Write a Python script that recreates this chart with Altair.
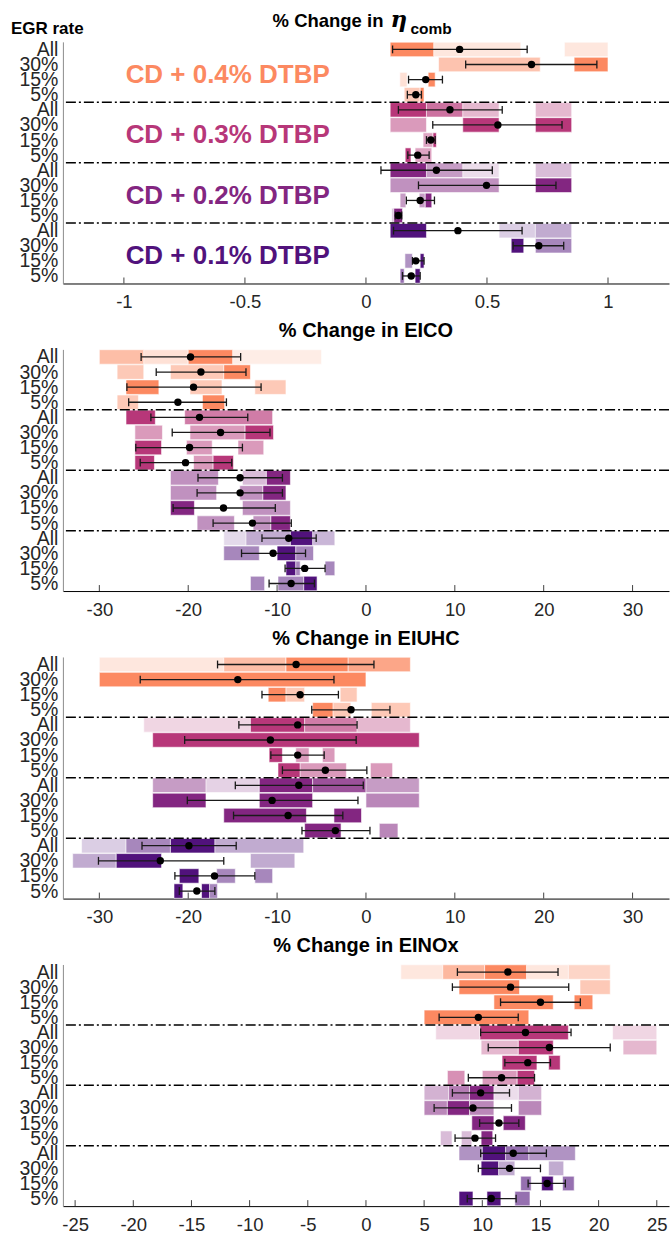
import altair as alt
import pandas as pd

EGR_RATES = ["All", "30%", "15%", "5%"]
BLENDS = ["CD + 0.4% DTBP", "CD + 0.3% DTBP", "CD + 0.2% DTBP", "CD + 0.1% DTBP"]
BLEND_COLORS = ["#FC8961", "#B73779", "#832681", "#51127C"]

# ---------- panel 1: % change in eta_comb ----------
# (row, from, to, relative density)  row = blend*4 + egr index
ETA_SEGS = [
    (0, 0.10, 0.28, 1.0), (0, 0.28, 0.64, 0.2), (0, 0.82, 1.0, 0.2),
    (1, 0.30, 0.72, 0.5), (1, 0.86, 1.0, 1.0),
    (2, 0.14, 0.17, 0.25), (2, 0.257, 0.286, 1.0),
    (3, 0.158, 0.224, 0.45), (3, 0.224, 0.24, 1.0),
    (4, 0.10, 0.25, 1.0), (4, 0.25, 0.40, 0.7), (4, 0.40, 0.55, 0.35), (4, 0.70, 0.85, 0.35),
    (5, 0.10, 0.25, 0.5), (5, 0.40, 0.55, 1.0), (5, 0.70, 0.85, 1.0),
    (6, 0.236, 0.277, 0.45), (6, 0.277, 0.291, 1.0),
    (7, 0.162, 0.186, 1.0), (7, 0.203, 0.272, 0.45),
    (8, 0.10, 0.25, 1.0), (8, 0.25, 0.40, 0.45), (8, 0.40, 0.55, 0.15), (8, 0.70, 0.85, 0.3),
    (9, 0.10, 0.55, 0.5), (9, 0.70, 0.85, 1.0),
    (10, 0.141, 0.165, 0.45), (10, 0.220, 0.245, 0.45), (10, 0.245, 0.272, 1.0),
    (11, 0.107, 0.115, 0.3), (11, 0.115, 0.151, 1.0),
    (12, 0.10, 0.25, 1.0), (12, 0.55, 0.70, 0.2), (12, 0.70, 0.85, 0.35),
    (13, 0.60, 0.652, 1.0), (13, 0.70, 0.85, 0.5),
    (14, 0.161, 0.192, 0.45), (14, 0.224, 0.240, 1.0),
    (15, 0.141, 0.158, 0.6), (15, 0.203, 0.224, 1.0),
]
ETA_MEAN = [0.387, 0.684, 0.247, 0.206, 0.347, 0.545, 0.268, 0.214,
            0.291, 0.498, 0.224, 0.134, 0.380, 0.714, 0.206, 0.187]
ETA_LO = [0.110, 0.412, 0.176, 0.171, 0.134, 0.276, 0.250, 0.173,
          0.062, 0.217, 0.167, 0.121, 0.114, 0.608, 0.192, 0.151]
ETA_HI = [0.666, 0.954, 0.316, 0.229, 0.563, 0.810, 0.286, 0.261,
          0.522, 0.785, 0.283, 0.148, 0.645, 0.817, 0.240, 0.224]
ETA_TICKS = [-1, -0.5, 0, 0.5, 1]

# ---------- panel 2: % change in EICO ----------
CO_SEGS = [
    (0, -30.0, -25.0, 0.55), (0, -25.0, -20.0, 0.25), (0, -20.0, -15.0, 1.0), (0, -15.0, -5.0, 0.15),
    (1, -28.0, -25.0, 0.45), (1, -22.0, -16.0, 0.45), (1, -16.0, -13.0, 1.0),
    (2, -27.0, -23.3, 1.0), (2, -19.8, -16.2, 0.45), (2, -12.5, -9.0, 0.45),
    (3, -28.0, -25.6, 0.45), (3, -18.4, -15.9, 1.0),
    (4, -27.0, -23.7, 1.0), (4, -20.4, -10.5, 0.65),
    (5, -26.0, -22.9, 0.5), (5, -19.8, -13.6, 0.5), (5, -13.6, -10.4, 1.0),
    (6, -26.0, -23.0, 1.0), (6, -20.2, -17.3, 0.5), (6, -14.4, -11.5, 0.5),
    (7, -26.0, -23.8, 1.0), (7, -19.4, -17.2, 0.5), (7, -17.2, -14.9, 1.0),
    (8, -22.0, -16.6, 0.5), (8, -13.9, -11.2, 0.3), (8, -11.2, -8.5, 1.0),
    (9, -22.0, -16.8, 0.5), (9, -14.2, -11.6, 0.5), (9, -11.6, -9.0, 1.0),
    (10, -22.0, -19.3, 1.0), (10, -13.9, -8.5, 0.5),
    (11, -19.0, -14.8, 0.5), (11, -12.7, -10.7, 0.5), (11, -10.7, -8.5, 1.0),
    (12, -16.0, -13.5, 0.15), (12, -13.5, -8.5, 0.35), (12, -8.5, -6.0, 1.0), (12, -6.0, -3.5, 0.3),
    (13, -16.0, -12.0, 0.5), (13, -10.0, -7.9, 1.0), (13, -7.9, -5.9, 0.5),
    (14, -9.0, -7.9, 1.0), (14, -7.9, -7.4, 0.5), (14, -4.6, -3.5, 0.5),
    (15, -13.0, -11.4, 0.5), (15, -9.9, -7.0, 0.5), (15, -7.0, -5.5, 1.0),
]
CO_MEAN = [-19.74, -18.57, -19.4, -21.16, -18.73, -16.36, -19.85, -20.3,
           -14.16, -14.16, -16.03, -12.77, -8.69, -10.45, -6.89, -8.42]
CO_LO = [-25.3, -23.6, -26.9, -26.7, -24.2, -21.8, -25.9, -25.4,
         -18.9, -19.0, -21.7, -17.2, -11.7, -14.0, -9.1, -10.9]
CO_HI = [-14.1, -13.5, -11.8, -15.7, -13.3, -10.8, -13.9, -15.1,
         -9.4, -9.4, -10.2, -8.4, -5.6, -6.8, -4.6, -5.8]
CO_TICKS = [-30, -20, -10, 0, 10, 20, 30]

# ---------- panel 3: % change in EIUHC ----------
UHC_SEGS = [
    (0, -30.0, -16.0, 0.2), (0, -16.0, -9.0, 0.55), (0, -9.0, -2.0, 1.0), (0, -2.0, 5.0, 0.75),
    (1, -30.0, 0.0, 1.0),
    (2, -11.0, -9.0, 1.0), (2, -9.0, -6.9, 0.45), (2, -2.9, -1.0, 0.45),
    (3, -6.0, -3.7, 1.0), (3, -3.7, -1.7, 0.45), (3, 0.6, 5.0, 0.45),
    (4, -25.0, -13.0, 0.2), (4, -13.0, -6.9, 1.0), (4, -6.9, -1.0, 0.65), (4, -1.0, 5.0, 0.35),
    (5, -24.0, 6.0, 1.0),
    (6, -10.9, -9.4, 1.0), (6, -7.9, -6.4, 0.5), (6, -4.9, -3.5, 0.5),
    (7, -9.9, -7.4, 1.0), (7, -7.4, -2.2, 0.5), (7, 0.5, 3.0, 0.5),
    (8, -24.0, -18.0, 0.45), (8, -18.0, -12.0, 0.2), (8, -12.0, -6.0, 1.0), (8, -6.0, 0.0, 0.8), (8, 0.0, 6.0, 0.45),
    (9, -24.0, -18.0, 1.0), (9, -12.0, -6.0, 1.0), (9, 0.0, 6.0, 0.55),
    (10, -16.0, -6.7, 1.0), (10, -3.6, -0.5, 1.0),
    (11, -6.9, -2.8, 1.0), (11, 1.5, 3.6, 0.55),
    (12, -32.0, -27.0, 0.2), (12, -27.0, -22.0, 0.5), (12, -22.0, -17.0, 1.0), (12, -17.0, -7.0, 0.35),
    (13, -33.0, -28.1, 0.35), (13, -28.1, -23.0, 1.0), (13, -13.0, -8.0, 0.35),
    (14, -21.0, -18.8, 1.0), (14, -16.8, -14.7, 0.5), (14, -12.5, -10.5, 0.5),
    (15, -21.6, -20.6, 1.0), (15, -18.5, -17.6, 1.0), (15, -17.6, -16.7, 0.5),
]
UHC_MEAN = [-7.86, -14.42, -7.41, -1.68, -7.68, -10.75, -7.68, -4.57,
            -7.56, -10.56, -8.76, -3.44, -19.92, -23.14, -17.04, -19.03]
UHC_LO = [-16.7, -25.4, -11.7, -6.1, -14.3, -20.4, -10.7, -9.4,
          -14.7, -20.1, -14.9, -7.2, -25.2, -30.1, -21.5, -21.0]
UHC_HI = [0.9, -3.6, -3.1, 2.7, -1.0, -1.1, -4.7, 0.1,
          -0.3, -0.9, -2.6, 0.45, -14.6, -16.0, -12.5, -17.0]
UHC_TICKS = [-30, -20, -10, 0, 10, 20, 30]

# ---------- panel 4: % change in EINOx ----------
NOX_SEGS = [
    (0, 3.0, 6.6, 0.2), (0, 6.6, 10.2, 0.6), (0, 10.2, 13.8, 1.0), (0, 13.8, 17.4, 0.2), (0, 17.4, 21.0, 0.35),
    (1, 8.0, 13.2, 1.0), (1, 18.4, 21.0, 0.45),
    (2, 11.0, 16.1, 1.0), (2, 17.9, 19.5, 1.0),
    (3, 5.0, 14.0, 1.0),
    (4, 6.0, 9.8, 0.2), (4, 9.8, 17.4, 1.0), (4, 21.2, 25.0, 0.2),
    (5, 9.9, 13.1, 0.35), (5, 13.1, 16.1, 1.0), (5, 22.1, 25.0, 0.35),
    (6, 11.7, 14.7, 1.0), (6, 15.7, 16.7, 1.0),
    (7, 7.0, 8.5, 0.55), (7, 10.0, 13.0, 0.5), (7, 13.0, 14.5, 1.0),
    (8, 5.0, 7.1, 0.35), (8, 7.1, 8.9, 0.6), (8, 8.9, 11.0, 1.0), (8, 11.0, 13.1, 0.15), (8, 13.1, 15.1, 0.35),
    (9, 5.0, 7.0, 0.55), (9, 7.0, 8.9, 1.0), (9, 8.9, 11.0, 0.55), (9, 13.1, 15.1, 0.55),
    (10, 9.1, 11.0, 1.0), (10, 11.8, 13.7, 1.0),
    (11, 6.4, 7.4, 0.3), (11, 8.2, 9.1, 0.3), (11, 9.9, 10.9, 1.0),
    (12, 8.0, 10.0, 0.45), (12, 10.0, 12.0, 1.0), (12, 12.0, 14.0, 0.6), (12, 14.0, 18.0, 0.45),
    (13, 9.9, 11.4, 1.0), (13, 11.4, 12.8, 0.35), (13, 15.7, 17.0, 0.35),
    (14, 13.3, 14.2, 0.6), (14, 15.1, 16.1, 1.0), (14, 16.9, 17.9, 0.6),
    (15, 8.0, 9.2, 1.0), (15, 10.4, 11.6, 1.0), (15, 12.8, 14.1, 0.6),
]
NOX_MEAN = [12.2, 12.43, 15.0, 9.66, 13.71, 15.77, 13.91, 11.66,
            9.86, 9.2, 11.43, 9.37, 12.66, 12.34, 15.57, 10.77]
NOX_LO = [7.86, 7.43, 11.57, 6.29, 9.86, 10.51, 11.94, 8.8,
          7.43, 5.86, 9.77, 7.66, 9.86, 9.66, 13.94, 8.71]
NOX_HI = [16.51, 17.43, 18.43, 13.09, 17.63, 21.0, 15.86, 14.49,
          12.34, 12.51, 13.14, 11.14, 15.51, 15.0, 17.14, 12.91]
NOX_TICKS = [-25, -20, -15, -10, -5, 0, 5, 10, 15, 20, 25]

W, H = 607, 242
FONT = "Liberation Sans"
TXT = "#262626"

color_scale = alt.Scale(domain=BLENDS, range=BLEND_COLORS)
y_scale = alt.Scale(domain=[-0.5, 15.5], reverse=True, nice=False, zero=False)
y_axis = alt.Axis(values=list(range(16)), labelExpr="['All','30%','15%','5%'][datum.value % 4]",
                  title=None, ticks=False, grid=False, domainColor="#8c8c8c", domainWidth=1,
                  labelFontSize=19.5, labelFont=FONT, labelColor=TXT, labelPadding=5,
                  labelOverlap=False, labelFlush=False, labelBound=False, labelBaseline="middle")


def panel(segs, mean, lo, hi, ticks, half, title=None, first=False):
    x_scale = alt.Scale(domain=[-half, half], nice=False, zero=False)
    x_axis = alt.Axis(values=ticks, labelExpr="'' + datum.value", title=None, ticks=False, grid=False,
                      domainColor="black", domainWidth=1, labelFontSize=18.5, labelFont=FONT,
                      labelColor=TXT, labelPadding=9, labelOverlap=False, labelFlush=False)
    sdf = pd.DataFrame(segs, columns=["row", "x0", "x1", "density"])
    sdf["blend"] = [BLENDS[r // 4] for r in sdf["row"]]
    pdf = pd.DataFrame({"row": list(range(16)), "mean": mean, "lo": lo, "hi": hi})
    tdf = pd.DataFrame({"t": ticks})
    gdf = pd.DataFrame({"g": [1, 2, 3]})

    bars = alt.Chart(sdf).mark_rect(stroke="white", strokeWidth=0.6).transform_calculate(
        y0="datum.row - 0.48", y1="datum.row + 0.48"
    ).encode(
        x=alt.X("x0:Q", scale=x_scale, axis=x_axis), x2="x1:Q",
        y=alt.Y("y0:Q", scale=y_scale, axis=y_axis), y2="y1:Q",
        color=alt.Color("blend:N", scale=color_scale, legend=None),
        opacity=alt.Opacity("density:Q", scale=alt.Scale(domain=[0, 1], range=[0, 1]), legend=None),
    )
    seps = alt.Chart(gdf).mark_rule(color="black", strokeWidth=1.5, strokeDash=[10, 3, 2, 3]).transform_calculate(
        sy="datum.g * 4 - 0.5"
    ).encode(y=alt.Y("sy:Q", scale=y_scale, axis=y_axis))
    base = alt.Chart(pdf)
    err = base.mark_rule(color="#1a1a1a", strokeWidth=1.3).encode(
        x=alt.X("lo:Q", scale=x_scale, axis=x_axis), x2="hi:Q",
        y=alt.Y("row:Q", scale=y_scale, axis=y_axis))
    capdata = base.transform_calculate(ca="datum.row - 0.26", cb="datum.row + 0.26")
    cap_lo = capdata.mark_rule(color="#1a1a1a", strokeWidth=1.3).encode(
        x=alt.X("lo:Q", scale=x_scale, axis=x_axis),
        y=alt.Y("ca:Q", scale=y_scale, axis=y_axis), y2="cb:Q")
    cap_hi = capdata.mark_rule(color="#1a1a1a", strokeWidth=1.3).encode(
        x=alt.X("hi:Q", scale=x_scale, axis=x_axis),
        y=alt.Y("ca:Q", scale=y_scale, axis=y_axis), y2="cb:Q")
    pts = base.mark_circle(color="black", opacity=1, size=55).encode(
        x=alt.X("mean:Q", scale=x_scale, axis=x_axis),
        y=alt.Y("row:Q", scale=y_scale, axis=y_axis))
    tks = alt.Chart(tdf).mark_rule(color="#404040", strokeWidth=1).encode(
        x=alt.X("t:Q", scale=x_scale, axis=x_axis), y=alt.value(H - 6), y2=alt.value(H))

    layers = [bars, seps, err, cap_lo, cap_hi, pts, tks]
    if first:
        ldf = pd.DataFrame({"blend": BLENDS, "g": [0, 1, 2, 3]})
        labels = alt.Chart(ldf).mark_text(fontSize=26, fontWeight="bold", font=FONT, align="center",
                                          baseline="middle", dy=3).transform_calculate(
            ly="datum.g * 4 + 1.5"
        ).encode(
            x=alt.value(165), y=alt.Y("ly:Q", scale=y_scale, axis=y_axis), text="blend:N",
            color=alt.Color("blend:N", scale=color_scale, legend=None))
        one = pd.DataFrame({"k": [0]})
        egr = alt.Chart(one).mark_text(text="EGR rate", fontSize=17, fontWeight="bold", font=FONT,
                                       align="left", baseline="alphabetic", color="black").encode(
            x=alt.value(-52), y=alt.value(-8))
        t1 = alt.Chart(one).mark_text(text="% Change in", fontSize=18.5, fontWeight="bold", font=FONT,
                                      align="left", baseline="alphabetic", color="black").encode(
            x=alt.value(210), y=alt.value(-15))
        t2 = alt.Chart(one).mark_text(text="η", fontSize=23, fontWeight="bold", fontStyle="italic",
                                      font="DejaVu Serif", align="left", baseline="alphabetic",
                                      color="black").encode(x=alt.value(328), y=alt.value(-15))
        t3 = alt.Chart(one).mark_text(text="comb", fontSize=15.5, fontWeight="bold", font=FONT,
                                      align="left", baseline="alphabetic", color="black").encode(
            x=alt.value(348), y=alt.value(-8))
        layers += [labels, egr, t1, t2, t3]
    ch = alt.layer(*layers).properties(width=W, height=H)
    if title:
        ch = ch.properties(title=alt.TitleParams(title, fontSize=20, fontWeight="bold", font=FONT,
                                                 color="black", anchor="middle", offset=6))
    return ch


p1 = panel(ETA_SEGS, ETA_MEAN, ETA_LO, ETA_HI, ETA_TICKS, 1.252, first=True)
p2 = panel(CO_SEGS, CO_MEAN, CO_LO, CO_HI, CO_TICKS, 34.1, title="% Change in EICO")
p3 = panel(UHC_SEGS, UHC_MEAN, UHC_LO, UHC_HI, UHC_TICKS, 34.1, title="% Change in EIUHC")
p4 = panel(NOX_SEGS, NOX_MEAN, NOX_LO, NOX_HI, NOX_TICKS, 26.05, title="% Change in EINOx")

chart = alt.vconcat(p1, p2, p3, p4, spacing=9).properties(
    padding={"left": 11, "top": 8, "right": 0, "bottom": 0}
).configure_view(stroke=None).configure_concat(spacing=9)

chart.save("out.html", embed_options={"renderer": "svg", "actions": False})
